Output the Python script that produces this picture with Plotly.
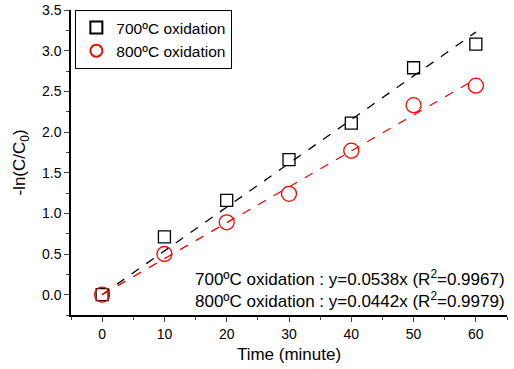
import plotly.graph_objects as go

time = [0, 10, 20, 30, 40, 50, 60]
y700 = [0.0, 0.71, 1.16, 1.66, 2.11, 2.79, 3.08]
y800 = [0.0, 0.50, 0.89, 1.24, 1.77, 2.33, 2.57]
k700 = 0.0538
k800 = 0.0442
fit_x = [0, 60]

fig = go.Figure()
fig.add_trace(go.Scatter(x=fit_x, y=[k700 * v for v in fit_x], mode="lines",
                         line=dict(color="black", dash="dash", width=1.3), showlegend=False))
fig.add_trace(go.Scatter(x=fit_x, y=[k800 * v for v in fit_x], mode="lines",
                         line=dict(color="red", dash="dash", width=1.3), showlegend=False))
fig.add_trace(go.Scatter(x=time, y=y700, mode="markers", name="700ºC oxidation",
                         marker=dict(symbol="square-open", size=12, color="black", line=dict(width=1.3))))
fig.add_trace(go.Scatter(x=time, y=y800, mode="markers", name="800ºC oxidation",
                         marker=dict(symbol="circle-open", size=15, color="red", line=dict(width=1.3))))

fig.add_annotation(x=1, y=0.121, xref="paper", yref="paper", xanchor="right", yanchor="middle",
                   text="700ºC oxidation : y=0.0538x (R<sup>2</sup>=0.9967)", showarrow=False,
                   font=dict(size=17, color="black"))
fig.add_annotation(x=1, y=0.049, xref="paper", yref="paper", xanchor="right", yanchor="middle",
                   text="800ºC oxidation : y=0.0442x (R<sup>2</sup>=0.9979)", showarrow=False,
                   font=dict(size=17, color="black"))

fig.update_layout(
    width=514, height=369,
    margin=dict(l=71, r=7, t=10, b=54, autoexpand=False),
    paper_bgcolor="white", plot_bgcolor="white",
    font=dict(family="Liberation Sans, Arial", size=14, color="black"),
    legend=dict(x=0.01, y=1.0, xanchor="left", yanchor="top", bordercolor="black", borderwidth=1,
                bgcolor="white", font=dict(size=15.5), tracegroupgap=0, itemsizing="constant"),
    xaxis=dict(range=[-5, 65], tickvals=[0, 10, 20, 30, 40, 50, 60], ticks="outside", ticklen=5,
               tickwidth=1.3, showline=True, linewidth=1.5, linecolor="black", showgrid=False, zeroline=False,
               minor=dict(tickvals=[-5, 5, 15, 25, 35, 45, 55, 65], ticks="outside", ticklen=3, tickwidth=1.3),
               title=dict(text="Time (minute)", font=dict(size=17), standoff=8), tickfont=dict(size=14)),
    yaxis=dict(range=[-0.25, 3.5], tickvals=[0, 0.5, 1, 1.5, 2, 2.5, 3, 3.5], tickformat=".1f",
               ticks="outside", ticklen=5, tickwidth=1.3, showline=True, linewidth=1.5, linecolor="black",
               showgrid=False, zeroline=False,
               minor=dict(tickvals=[-0.25, 0.25, 0.75, 1.25, 1.75, 2.25, 2.75, 3.25], ticks="outside", ticklen=3, tickwidth=1.3),
               title=dict(text="-ln(C/C<sub>0</sub>)", font=dict(size=17), standoff=12), tickfont=dict(size=14)),
)

fig.write_html("out.html", config={"displayModeBar": False})
with open("out.html", "r", encoding="utf-8") as f:
    html = f.read()
html = html.replace("<body>", '<body style="margin:0;padding:0;overflow:hidden">', 1)
with open("out.html", "w", encoding="utf-8") as f:
    f.write(html)
